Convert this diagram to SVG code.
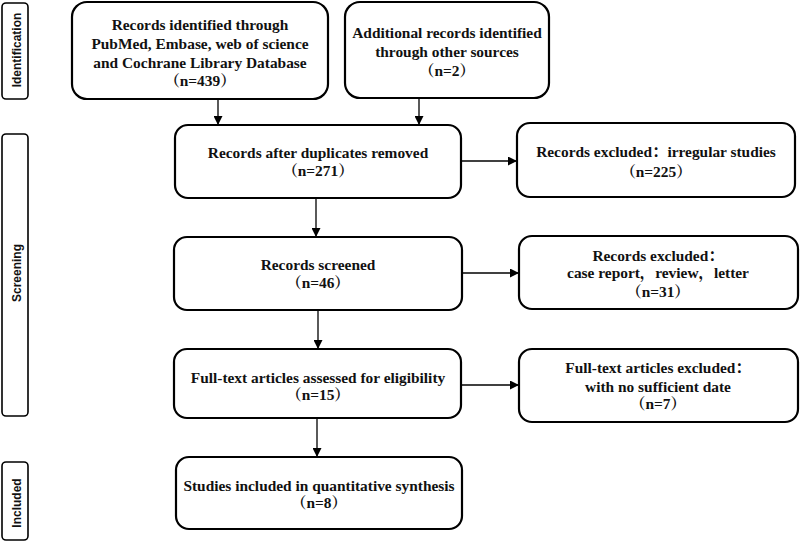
<svg xmlns="http://www.w3.org/2000/svg" width="800" height="541" viewBox="0 0 800 541">
<defs>
<marker id="arr" viewBox="0 0 10 10" refX="10" refY="5" markerWidth="9" markerHeight="9" markerUnits="userSpaceOnUse" orient="auto">
<path d="M0,0 L10,5 L0,10 Z" fill="#000"/>
</marker>
<style>
.box{fill:#fff;stroke:#000;stroke-width:2.2}
.side{fill:#fff;stroke:#000;stroke-width:1.6}
.t{font-family:"Liberation Serif","Noto Serif CJK SC","Noto Sans CJK SC",serif;font-weight:bold;font-size:15.4px;text-anchor:middle;fill:#111}
.s{font-family:"Liberation Sans",Arial,sans-serif;font-weight:bold;font-size:12px;text-anchor:middle;fill:#111}
.c{stroke:#000;stroke-width:1.3;fill:none;marker-end:url(#arr)}
</style>
</defs>
<rect width="800" height="541" fill="#fff"/>
<g id="side-identification">
<rect class="side" x="2" y="3" width="26" height="96" rx="4"/>
<text class="s" transform="translate(20.5,50) rotate(-90)">Identification</text>
</g>
<g id="side-screening">
<rect class="side" x="2" y="134" width="26" height="282" rx="4"/>
<text class="s" transform="translate(20.5,273) rotate(-90)">Screening</text>
</g>
<g id="side-included">
<rect class="side" x="2" y="462" width="26" height="78" rx="4"/>
<text class="s" transform="translate(20.5,503) rotate(-90)">Included</text>
</g>
<g id="connectors">
<line class="c" x1="218" y1="99" x2="218" y2="125"/>
<line class="c" x1="419" y1="98" x2="419" y2="125"/>
<line class="c" x1="461" y1="161" x2="517" y2="161"/>
<line class="c" x1="316" y1="198" x2="316" y2="237"/>
<line class="c" x1="462" y1="273" x2="519" y2="273"/>
<line class="c" x1="318" y1="310" x2="318" y2="349"/>
<line class="c" x1="461" y1="385" x2="519" y2="385"/>
<line class="c" x1="317" y1="418" x2="317" y2="457"/>
</g>
<g id="n1">
<rect class="box" x="72" y="2" width="256" height="97" rx="15"/>
<text class="t" x="200" y="30">Records identified through</text>
<text class="t" x="200" y="49">PubMed, Embase, web of science</text>
<text class="t" x="200" y="68">and Cochrane Library Database</text>
<text class="t" x="200" y="86">（n=439）</text>
</g>
<g id="n2">
<rect class="box" x="345" y="2" width="204" height="96" rx="15"/>
<text class="t" x="447" y="38">Additional records identified</text>
<text class="t" x="447" y="57">through other sources</text>
<text class="t" x="447" y="76">（n=2）</text>
</g>
<g id="n3">
<rect class="box" x="175" y="125" width="286" height="73" rx="13"/>
<text class="t" x="318" y="158">Records after duplicates removed</text>
<text class="t" x="318" y="176">（n=271）</text>
</g>
<g id="n4">
<rect class="box" x="517" y="123" width="278" height="74" rx="13"/>
<text class="t" x="656" y="157">Records excluded：irregular studies</text>
<text class="t" x="656" y="177">（n=225）</text>
</g>
<g id="n5">
<rect class="box" x="174" y="237" width="288" height="73" rx="13"/>
<text class="t" x="318" y="270">Records screened</text>
<text class="t" x="318" y="288">（n=46）</text>
</g>
<g id="n6">
<rect class="box" x="519" y="236" width="279" height="73" rx="13"/>
<text class="t" x="658" y="261">Records excluded：</text>
<text class="t" x="658" y="278">case report，review，letter</text>
<text class="t" x="658" y="297">（n=31）</text>
</g>
<g id="n7">
<rect class="box" x="174" y="349" width="287" height="69" rx="13"/>
<text class="t" x="318" y="383">Full-text articles assessed for eligibility</text>
<text class="t" x="318" y="400">（n=15）</text>
</g>
<g id="n8">
<rect class="box" x="519" y="349" width="279" height="73" rx="13"/>
<text class="t" x="658" y="373">Full-text articles excluded：</text>
<text class="t" x="658" y="392">with no sufficient date</text>
<text class="t" x="658" y="409">（n=7）</text>
</g>
<g id="n9">
<rect class="box" x="176" y="457" width="286" height="72" rx="13"/>
<text class="t" x="319" y="491">Studies included in quantitative synthesis</text>
<text class="t" x="319" y="508">（n=8）</text>
</g>
</svg>
